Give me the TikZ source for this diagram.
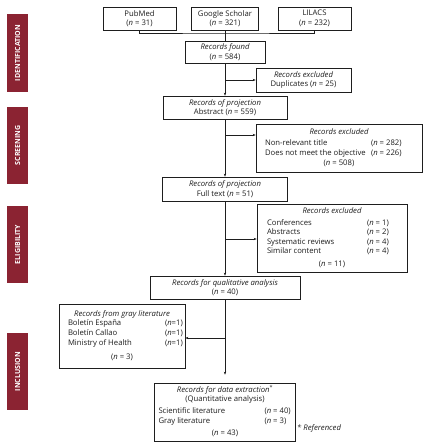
\documentclass[tikz,border=0pt]{standalone}
\usepackage{fontspec}
\setmainfont{Open Sans}
\usetikzlibrary{arrows.meta,calc}
\definecolor{barred}{HTML}{8B2332}
\definecolor{ink}{HTML}{1E1E1E}
\begin{document}
\begin{tikzpicture}[x=1pt,y=-1pt,
  box/.style={draw=ink, line width=0.7pt, inner sep=0pt, align=center,
    font=\fontsize{7.7}{9.6}\selectfont, text=ink},
  phase/.style={fill=barred, inner sep=0pt, minimum height=21pt,
    font=\bfseries\fontsize{7}{7}\selectfont, text=white},
  link/.style={draw=ink, line width=0.6pt},
  arr/.style={link, -{Stealth[length=3pt,width=2.4pt]}},
  note/.style={font=\itshape\fontsize{7.7}{9.6}\selectfont, text=ink, inner sep=0pt}]
\useasboundingbox (0,0) rectangle (430,446);
\fill[white] (0,0) rectangle (430,446);

% phase bars
\node[phase, minimum width=78pt, rotate=90] (p1) at (17.5,53) {IDENTIFICATION};
\node[phase, minimum width=77pt, rotate=90] (p2) at (17.5,145.5) {SCREENING};
\node[phase, minimum width=77pt, rotate=90] (p3) at (17.5,244.5) {ELIGIBILITY};
\node[phase, minimum width=77pt, rotate=90] (p4) at (17.5,371.5) {INCLUSION};

% sources
\node[box, minimum width=73pt, minimum height=23pt] (pub) at (139.5,18.5) {PubMed\\(\textit{n} = 31)};
\node[box, minimum width=67pt, minimum height=23pt] (gs) at (225,18.5) {Google Scholar\\(\textit{n} = 321)};
\node[box, minimum width=73pt, minimum height=23pt] (lil) at (314.5,18.5) {LILACS\\(\textit{n} = 232)};

% main column
\node[box, minimum width=80pt, minimum height=22pt] (found) at (225,52) {{\itshape Records found}\\(\textit{n} = 584)};
\node[box, minimum width=95pt, minimum height=24pt] (dup) at (303.5,80) {{\itshape Records excluded}\\Duplicates (\textit{n} = 25)};
\node[box, minimum width=124pt, minimum height=23pt] (abs) at (225,107.5) {{\itshape Records of projection}\\Abstract (\textit{n} = 559)};
\node[box, minimum width=166pt, minimum height=48pt] (exc1) at (339,148) {%
\begin{tabular}{@{\hspace{9pt}}p{106pt}@{}p{40pt}@{\hspace{11pt}}}
\multicolumn{2}{@{}c@{}}{\itshape Records excluded}\\[1.5pt]
Non-relevant title & (\textit{n} = 282)\\
Does not meet the objective & (\textit{n} = 226)\\[0.5pt]
\multicolumn{2}{@{}c@{}}{(\textit{n} = 508)}
\end{tabular}};
\node[box, minimum width=125pt, minimum height=24pt] (full) at (225,189) {{\itshape Records of projection}\\Full text (\textit{n} = 51)};
\node[box, minimum width=150pt, minimum height=68pt] (exc2) at (332,238) {%
\begin{tabular}{@{\hspace{10pt}}p{100pt}@{}p{30pt}@{\hspace{10pt}}}
\multicolumn{2}{@{}c@{}}{\itshape Records excluded}\\[2pt]
Conferences & (\textit{n} = 1)\\
Abstracts & (\textit{n} = 2)\\
Systematic reviews & (\textit{n} = 4)\\
Similar content & (\textit{n} = 4)\\[3pt]
\multicolumn{2}{@{}c@{}}{(\textit{n} = 11)}
\end{tabular}};
\node[box, minimum width=150pt, minimum height=23pt] (qual) at (225,287.5) {{\itshape Records for qualitative analysis}\\(\textit{n} = 40)};
\node[box, minimum width=126pt, minimum height=64pt] (gray) at (122,336) {%
\begin{tabular}{@{\hspace{9pt}}p{97pt}@{}p{17pt}@{\hspace{3pt}}}
\multicolumn{2}{@{}c@{}}{\itshape Records from gray literature}\\
Boletín España & (\textit{n}=1)\\
Boletín Callao & (\textit{n}=1)\\
Ministry of Health & (\textit{n}=1)\\[5pt]
\multicolumn{2}{@{}c@{}}{(\textit{n} = 3)}
\end{tabular}};
\node[box, minimum width=141pt, minimum height=58pt] (data) at (225,412) {%
\begin{tabular}{@{\hspace{4pt}}p{106pt}@{}p{27pt}@{\hspace{4pt}}}
\multicolumn{2}{@{}c@{}}{{\itshape Records for data extraction}\textsuperscript{*}}\\
\multicolumn{2}{@{}c@{}}{(Quantitative analysis)}\\[2pt]
Scientific literature & (\textit{n} = 40)\\
Gray literature & (\textit{n} = 3)\\[3pt]
\multicolumn{2}{@{}c@{}}{(\textit{n} = 43)}
\end{tabular}};
\node[note, anchor=west] (ref) at (297,428) {* Referenced};

% connectors
\coordinate (j) at (225,33);
\draw[link] (pub.south) |- (j) -| (lil.south);
\draw[link] (gs.south) -- (found.north);
\draw[arr] (found) -- (abs);
\draw[arr] (abs) -- (full);
\draw[arr] (full) -- (qual);
\draw[arr, shorten >=8pt] (qual) -- (data);
\coordinate (s1) at (225,80);
\coordinate (s2) at (225,135);
\coordinate (s3) at (225,239);
\coordinate (s4) at (225,338);
\draw[arr] (s1) -- (s1 -| dup.west);
\draw[arr] (s2) -- (s2 -| exc1.west);
\draw[arr] (s3) -- (s3 -| exc2.west);
\draw[arr] (s4) -- (s4 -| gray.east);
\end{tikzpicture}
\end{document}
